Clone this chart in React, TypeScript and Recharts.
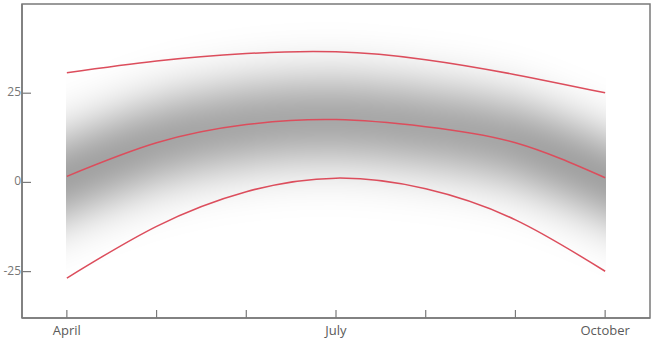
import { Line, LineChart, ReferenceArea, XAxis, YAxis } from "recharts";

const months = ["April", "May", "June", "July", "August", "September", "October"];
const labeledMonths = ["April", "July", "October"];
const upper = [30.7, 34.0, 36.1, 36.6, 34.4, 30.2, 25.1];
const middle = [1.7, 11.1, 16.2, 17.6, 15.6, 11.1, 1.3];
const lower = [-26.8, -12.3, -2.6, 1.2, -1.8, -10.5, -24.9];
const yTicks = [-25, 0, 25];

const data = months.map((name, i) => ({
  i,
  name,
  upper: upper[i],
  middle: middle[i],
  lower: lower[i],
}));

const axisColor = "#7a7a7a";
const lineColor = "#dc4d5c";
const font = "'Open Sans', 'DejaVu Sans', sans-serif";

const XTick = ({ x, y, payload }: any) => {
  const name = months[payload.value];
  return (
    <g>
      <line x1={x} x2={x} y1={y} y2={y - 8} stroke={axisColor} strokeWidth={1.2} />
      {labeledMonths.includes(name) && (
        <text x={x} y={y + 17} textAnchor="middle" fill="#5a5a5a" fontSize={13} fontFamily={font}>
          {name}
        </text>
      )}
    </g>
  );
};

const YTick = ({ x, y, payload }: any) => (
  <g>
    <line x1={x} x2={x + 9} y1={y} y2={y} stroke={axisColor} strokeWidth={1.2} />
    <text x={x - 1} y={y + 3} textAnchor="end" fill="#777" fontSize={12} fontFamily={font}>
      {payload.value}
    </text>
  </g>
);

export default function App() {
  const domainX: [number, number] = [-0.5, 6.5];
  const domainY: [number, number] = [-38, 50];
  return (
    <div style={{ position: "absolute", left: 0, top: 0, width: 657, height: 344, background: "#fff" }}>
      <LineChart width={657} height={344} data={data} margin={{ top: 4, right: 7, bottom: 0, left: 0 }}>
        <defs>
          {/* vertical-only blur, clipped to the line's own x extent */}
          <filter
            id="band"
            filterUnits="objectBoundingBox"
            x="0"
            y="-4"
            width="1"
            height="9"
            colorInterpolationFilters="sRGB"
          >
            <feGaussianBlur stdDeviation="0 31" />
          </filter>
        </defs>
        <XAxis
          dataKey="i"
          type="number"
          domain={domainX}
          ticks={[0, 1, 2, 3, 4, 5, 6]}
          height={26}
          tickSize={0}
          tickMargin={0}
          tickLine={false}
          tick={<XTick />}
          axisLine={{ stroke: axisColor, strokeWidth: 1.5 }}
        />
        <YAxis
          type="number"
          domain={domainY}
          ticks={yTicks}
          width={22}
          tickSize={0}
          tickMargin={0}
          tickLine={false}
          tick={<YTick />}
          axisLine={{ stroke: axisColor, strokeWidth: 1.5 }}
        />
        <ReferenceArea
          x1={domainX[0]}
          x2={domainX[1]}
          y1={domainY[0]}
          y2={domainY[1]}
          fill="none"
          fillOpacity={0}
          stroke={axisColor}
          strokeWidth={1.5}
          strokeOpacity={1}
        />
        <Line
          dataKey="middle"
          type="natural"
          stroke="#000"
          strokeOpacity={0.56}
          strokeWidth={52}
          strokeLinecap="square"
          filter="url(#band)"
          dot={false}
          activeDot={false}
          isAnimationActive={false}
        />
        <Line dataKey="upper" type="natural" stroke={lineColor} strokeWidth={1.5} dot={false} activeDot={false} isAnimationActive={false} />
        <Line dataKey="middle" type="natural" stroke={lineColor} strokeWidth={1.5} dot={false} activeDot={false} isAnimationActive={false} />
        <Line dataKey="lower" type="natural" stroke={lineColor} strokeWidth={1.5} dot={false} activeDot={false} isAnimationActive={false} />
      </LineChart>
    </div>
  );
}
